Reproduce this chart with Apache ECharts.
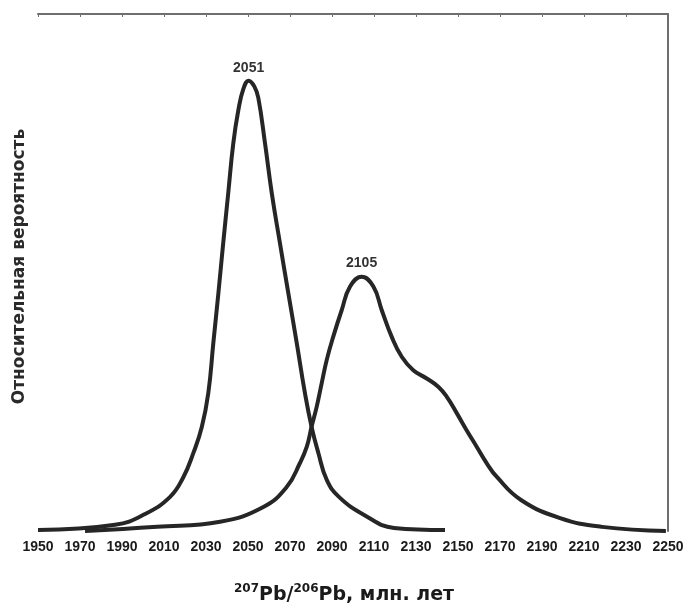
<!DOCTYPE html>
<html>
<head>
<meta charset="utf-8">
<script src="https://cdn.jsdelivr.net/npm/echarts@6/dist/echarts.min.js"></script>
<style>
html,body{margin:0;padding:0;background:#fff;}
#c{width:694px;height:612px;}
</style>
</head>
<body>
<div id="c"></div>
<script>
// Age axis (Ma) ticks
const xMin = 1950;
const xMax = 2250;
const xStep = 20;

// Sample 1 probability density curve
const sampleAAges = [1950, 1986.7, 2001, 2012.9, 2019.2, 2024, 2028, 2031.1, 2033.5, 2035.9, 2038.2, 2040.6, 2043, 2045.4, 2047.8, 2050.3, 2053, 2054.9, 2058.1, 2061.3, 2065.2, 2069.2, 2073.2, 2077.1, 2080.3, 2083.5, 2087.5, 2093.3, 2105.7, 2119.5, 2143.8];
const sampleAProb = [0.2, 1.2, 3.3, 6.6, 10.4, 15.1, 20.1, 26.7, 36.4, 46.0, 55.7, 65.4, 75.0, 81.4, 85.5, 87.1, 86.0, 83.8, 75.0, 65.4, 55.7, 46.0, 36.4, 26.7, 20.1, 15.1, 9.9, 6.6, 3.0, 0.6, 0.2];

// Sample 2 probability density curve
const sampleBAges = [1972.4, 2006.7, 2036.7, 2057.1, 2068.4, 2074.8, 2078, 2080.3, 2082.7, 2085.1, 2087.5, 2090.6, 2094.6, 2098.6, 2104.1, 2109.7, 2113.7, 2118.4, 2123.2, 2128.7, 2135.1, 2140.6, 2144.6, 2149.4, 2154.1, 2158.9, 2163.7, 2168.4, 2180, 2198.6, 2218.6, 2249];
const sampleBProb = [0.0, 0.8, 1.8, 4.6, 8.5, 13.2, 16.3, 20.2, 24.0, 28.6, 33.1, 37.6, 42.7, 47.3, 49.2, 47.3, 42.7, 37.6, 33.7, 31.1, 29.5, 27.9, 26.0, 22.8, 19.5, 16.3, 13.1, 10.5, 6.0, 2.5, 0.8, 0.0];

// Peak labels
const peakLabels = ['2051', '2105'];

const xTitleParts = ['207', 'Pb/', '206', 'Pb, млн. лет'];
const yTitle = 'Относительная вероятность';

function pairs(xs, ys) { return xs.map((x, i) => [x, ys[i]]); }
function peak(xs, ys) {
  let k = 0;
  ys.forEach((v, i) => { if (v > ys[k]) k = i; });
  return [xs[k], ys[k]];
}

const FONT = 'Liberation Sans';
const WIDE = 'DejaVu Sans';
const lineColor = '#262626';
const frameColor = '#6e6e6e';

function makeSeries(xs, ys, label) {
  return {
    type: 'line',
    data: pairs(xs, ys),
    xAxisIndex: 0,
    yAxisIndex: 0,
    symbol: 'none',
    smooth: 0.45,
    lineStyle: { color: lineColor, width: 4 },
    markPoint: {
      symbol: 'circle',
      symbolSize: 0,
      data: [{ coord: peak(xs, ys), value: label }],
      label: {
        show: true,
        position: 'top',
        distance: 6,
        formatter: label,
        color: '#333',
        fontFamily: FONT,
        fontWeight: 'bold',
        fontSize: 14
      }
    }
  };
}

const chart = echarts.init(document.getElementById('c'), null, { renderer: 'canvas' });
chart.setOption({
  animation: false,
  backgroundColor: '#fff',
  grid: { left: 38, right: 26, top: 14, bottom: 81, containLabel: false },
  xAxis: [
    {
      type: 'value', position: 'bottom', min: xMin, max: xMax, interval: xStep,
      axisLine: { show: false, onZero: false }, axisTick: { show: false }, splitLine: { show: false },
      axisLabel: { show: true, showMinLabel: true, showMaxLabel: true, margin: 9, color: '#1a1a1a', fontFamily: FONT, fontWeight: 'bold', fontSize: 14, formatter: v => String(v) },
      name: '{sup|' + xTitleParts[0] + '}{main|' + xTitleParts[1] + '}{sup|' + xTitleParts[2] + '}{main|' + xTitleParts[3] + '}',
      nameLocation: 'middle',
      nameGap: 52,
      nameTextStyle: {
        padding: [0, 18, 0, 0],
        rich: {
          main: { fontFamily: WIDE, fontWeight: 'bold', fontSize: 19, color: '#1a1a1a', lineHeight: 22, verticalAlign: 'bottom' },
          sup: { fontFamily: WIDE, fontWeight: 'bold', fontSize: 12, color: '#1a1a1a', lineHeight: 22, verticalAlign: 'top', padding: [0, 0, 7, 0] }
        }
      }
    },
    {
      type: 'value', position: 'top', min: xMin, max: xMax, interval: xStep,
      axisLine: { show: true, onZero: false, lineStyle: { color: frameColor, width: 2 } },
      axisTick: { show: true, inside: true, length: 3, lineStyle: { color: frameColor, width: 1 } },
      axisLabel: { show: false }, splitLine: { show: false }
    }
  ],
  yAxis: [
    {
      type: 'value', position: 'left', min: 0, max: 100,
      axisLine: { show: false, onZero: false }, axisTick: { show: false }, axisLabel: { show: false }, splitLine: { show: false },
      name: yTitle, nameLocation: 'middle', nameRotate: 90, nameGap: 10,
      nameTextStyle: { fontFamily: WIDE, fontWeight: 'bold', fontSize: 17, color: '#2a2a2a', padding: [0, 0, 0, 12] }
    },
    {
      type: 'value', position: 'right', min: 0, max: 100,
      axisLine: { show: true, onZero: false, lineStyle: { color: frameColor, width: 2 } },
      axisTick: { show: false }, axisLabel: { show: false }, splitLine: { show: false }
    }
  ],
  series: [
    makeSeries(sampleAAges, sampleAProb, peakLabels[0]),
    makeSeries(sampleBAges, sampleBProb, peakLabels[1])
  ]
});
</script>
</body>
</html>
